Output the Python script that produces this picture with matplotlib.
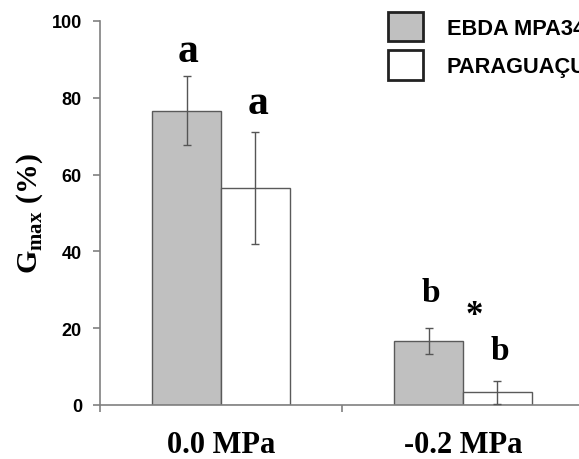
import matplotlib.pyplot as plt
import numpy as np

# data
categories = ["0.0 MPa", "-0.2 MPa"]
cultivars = ["EBDA MPA34", "PARAGUAÇU"]
gmax_ebda = [76.6, 16.7]
err_ebda = [9.0, 3.3]
gmax_para = [56.6, 3.3]
err_para = [14.6, 3.0]
letters_ebda = ["a", "b"]
letters_para = ["a", "b"]
star_group = 1

plt.rcParams['mathtext.fontset'] = 'custom'
plt.rcParams['mathtext.rm'] = 'Liberation Serif:bold'
plt.rcParams['mathtext.bf'] = 'Liberation Serif:bold'

fig = plt.figure(figsize=(5.79, 4.6), dpi=100)
ax = fig.add_axes([100 / 579, 54 / 460, 484 / 579, 384 / 460])

x = np.arange(len(categories)) + 0.5
w = 0.285
bar_edge = "#5a5a5a"
ax.bar(x - w / 2, gmax_ebda, w, color="#c0c0c0", edgecolor=bar_edge, linewidth=1.0,
       label=cultivars[0], zorder=2)
ax.bar(x + w / 2, gmax_para, w, color="white", edgecolor=bar_edge, linewidth=1.0,
       label=cultivars[1], zorder=2)
ax.errorbar(x - w / 2, gmax_ebda, yerr=err_ebda, fmt="none", ecolor="#555555",
            elinewidth=1.0, capsize=3, capthick=1.0, zorder=3)
ax.errorbar(x + w / 2, gmax_para, yerr=err_para, fmt="none", ecolor="#555555",
            elinewidth=1.0, capsize=3, capthick=1.0, zorder=3)

# significance letters above error bars
pad_ebda = [3.9, 7.0]
pad_para = [4.9, 5.7]
size_letter = {"a": 30, "b": 24}
for i in range(len(categories)):
    ax.text(x[i] - w / 2 + 0.008, gmax_ebda[i] + err_ebda[i] + pad_ebda[i], letters_ebda[i],
            ha="center", va="baseline", family="Liberation Serif", weight="bold",
            fontsize=size_letter[letters_ebda[i]])
    ax.text(x[i] + w / 2 + 0.01, gmax_para[i] + err_para[i] + pad_para[i], letters_para[i],
            ha="center", va="baseline", family="Liberation Serif", weight="bold",
            fontsize=size_letter[letters_para[i]])
ax.text(x[star_group] + 0.045, gmax_ebda[star_group] + 4.3, "*", ha="center", va="baseline",
        family="Liberation Serif", weight="bold", fontsize=25)

ax.set_xlim(0, 2)
ax.set_ylim(0, 100)
ax.set_yticks([0, 20, 40, 60, 80, 100])
ax.set_xticks([0, 1, 2])
ax.set_xticklabels([])
ax.set_xticks(x, minor=True)
ax.set_xticklabels(categories, minor=True, family="Liberation Serif", weight="bold", fontsize=22)
ax.tick_params(axis="x", which="minor", length=0, pad=18)
ax.tick_params(axis="x", which="major", length=5, direction="out", color="#808080", width=1.2)
ax.tick_params(axis="y", length=5, direction="out", color="#808080", width=1.2, pad=8)
for lab in ax.get_yticklabels():
    lab.set_family("Liberation Sans")
    lab.set_weight("bold")
    lab.set_fontsize(13)

for s in ["top", "right"]:
    ax.spines[s].set_visible(False)
for s in ["left", "bottom"]:
    ax.spines[s].set_color("#808080")
    ax.spines[s].set_linewidth(1.2)

ax.set_ylabel(r"G$_{\mathrm{max}}$ (%)", family="Liberation Serif", weight="bold", fontsize=21.5,
              labelpad=5)

# legend, partly cut off at the right edge like the original
handles, labels = ax.get_legend_handles_labels()
leg = fig.legend(handles, labels, loc="upper left", bbox_to_anchor=(388 / 579, 1 - 13 / 460),
                 frameon=False, borderpad=0, borderaxespad=0, handlelength=1.6,
                 handleheight=1.7, handletextpad=1.1, labelspacing=0.4,
                 prop={"family": "Liberation Sans", "weight": "bold", "size": 15.7})
for p in leg.get_patches():
    p.set_edgecolor("#222222")
    p.set_linewidth(2.0)

fig.savefig("out.png", dpi=100)
